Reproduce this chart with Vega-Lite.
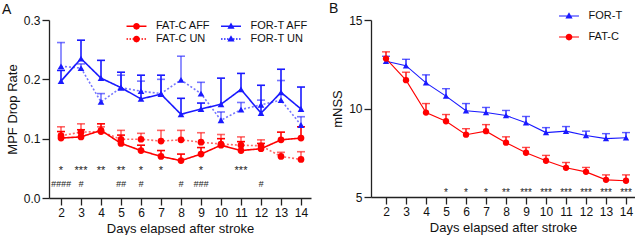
{
  "$schema": "https://vega.github.io/schema/vega-lite/v6.json",
  "padding": {"left": 2, "top": 1, "right": 0, "bottom": 0},
  "config": {
    "font": "Liberation Sans",
    "view": {"stroke": null},
    "axis": {"grid": false, "domainColor": "#222", "tickColor": "#222", "domainWidth": 1.3, "tickWidth": 1.3, "labelFontSize": 12, "titleFontSize": 13, "titleFontWeight": "normal", "labelColor": "#111", "titleColor": "#111", "tickSize": 7, "labelPadding": 2},
    "legend": {"padding": 0, "labelFontSize": 11, "labelColor": "#111", "symbolSize": 225, "labelOffset": 12, "symbolStrokeWidth": 0},
    "title": {"fontSize": 14, "fontWeight": "normal", "anchor": "start", "color": "#111"}
  },
  "spacing": 18,
  "resolve": {"scale": {"color": "independent", "shape": "independent", "strokeDash": "independent", "opacity": "independent", "strokeOpacity": "independent"}, "legend": {"color": "independent"}},
  "datasets": {
    "a": [
      {"day": 2, "series": "FOR-T AFF", "group": "FOR-T", "kind": "AFF", "mean": 0.197, "hi": 0.215},
      {"day": 3, "series": "FOR-T AFF", "group": "FOR-T", "kind": "AFF", "mean": 0.235, "hi": 0.266},
      {"day": 4, "series": "FOR-T AFF", "group": "FOR-T", "kind": "AFF", "mean": 0.202, "hi": 0.232},
      {"day": 5, "series": "FOR-T AFF", "group": "FOR-T", "kind": "AFF", "mean": 0.186, "hi": 0.212},
      {"day": 6, "series": "FOR-T AFF", "group": "FOR-T", "kind": "AFF", "mean": 0.167, "hi": 0.207},
      {"day": 7, "series": "FOR-T AFF", "group": "FOR-T", "kind": "AFF", "mean": 0.175, "hi": 0.207},
      {"day": 8, "series": "FOR-T AFF", "group": "FOR-T", "kind": "AFF", "mean": 0.141, "hi": 0.168},
      {"day": 9, "series": "FOR-T AFF", "group": "FOR-T", "kind": "AFF", "mean": 0.150, "hi": 0.160},
      {"day": 10, "series": "FOR-T AFF", "group": "FOR-T", "kind": "AFF", "mean": 0.158, "hi": 0.202},
      {"day": 11, "series": "FOR-T AFF", "group": "FOR-T", "kind": "AFF", "mean": 0.183, "hi": 0.210},
      {"day": 12, "series": "FOR-T AFF", "group": "FOR-T", "kind": "AFF", "mean": 0.143, "hi": 0.190},
      {"day": 13, "series": "FOR-T AFF", "group": "FOR-T", "kind": "AFF", "mean": 0.178, "hi": 0.217},
      {"day": 14, "series": "FOR-T AFF", "group": "FOR-T", "kind": "AFF", "mean": 0.150, "hi": 0.187},
      {"day": 2, "series": "FOR-T UN", "group": "FOR-T", "kind": "UN", "mean": 0.222, "hi": 0.262},
      {"day": 3, "series": "FOR-T UN", "group": "FOR-T", "kind": "UN", "mean": 0.219, "hi": 0.226},
      {"day": 4, "series": "FOR-T UN", "group": "FOR-T", "kind": "UN", "mean": 0.162, "hi": 0.176},
      {"day": 5, "series": "FOR-T UN", "group": "FOR-T", "kind": "UN", "mean": 0.186, "hi": 0.207},
      {"day": 6, "series": "FOR-T UN", "group": "FOR-T", "kind": "UN", "mean": 0.180, "hi": 0.197},
      {"day": 7, "series": "FOR-T UN", "group": "FOR-T", "kind": "UN", "mean": 0.176, "hi": 0.200},
      {"day": 8, "series": "FOR-T UN", "group": "FOR-T", "kind": "UN", "mean": 0.199, "hi": 0.239},
      {"day": 9, "series": "FOR-T UN", "group": "FOR-T", "kind": "UN", "mean": 0.176, "hi": 0.195},
      {"day": 10, "series": "FOR-T UN", "group": "FOR-T", "kind": "UN", "mean": 0.131, "hi": 0.145},
      {"day": 11, "series": "FOR-T UN", "group": "FOR-T", "kind": "UN", "mean": 0.149, "hi": 0.161},
      {"day": 12, "series": "FOR-T UN", "group": "FOR-T", "kind": "UN", "mean": 0.157, "hi": 0.165},
      {"day": 13, "series": "FOR-T UN", "group": "FOR-T", "kind": "UN", "mean": 0.165, "hi": 0.198},
      {"day": 14, "series": "FOR-T UN", "group": "FOR-T", "kind": "UN", "mean": 0.123, "hi": 0.137},
      {"day": 2, "series": "FAT-C AFF", "group": "FAT-C", "kind": "AFF", "mean": 0.101, "hi": 0.112},
      {"day": 3, "series": "FAT-C AFF", "group": "FAT-C", "kind": "AFF", "mean": 0.103, "hi": 0.115},
      {"day": 4, "series": "FAT-C AFF", "group": "FAT-C", "kind": "AFF", "mean": 0.114, "hi": 0.125},
      {"day": 5, "series": "FAT-C AFF", "group": "FAT-C", "kind": "AFF", "mean": 0.092, "hi": 0.106},
      {"day": 6, "series": "FAT-C AFF", "group": "FAT-C", "kind": "AFF", "mean": 0.080, "hi": 0.089},
      {"day": 7, "series": "FAT-C AFF", "group": "FAT-C", "kind": "AFF", "mean": 0.070, "hi": 0.080},
      {"day": 8, "series": "FAT-C AFF", "group": "FAT-C", "kind": "AFF", "mean": 0.063, "hi": 0.074},
      {"day": 9, "series": "FAT-C AFF", "group": "FAT-C", "kind": "AFF", "mean": 0.074, "hi": 0.085},
      {"day": 10, "series": "FAT-C AFF", "group": "FAT-C", "kind": "AFF", "mean": 0.089, "hi": 0.100},
      {"day": 11, "series": "FAT-C AFF", "group": "FAT-C", "kind": "AFF", "mean": 0.080, "hi": 0.095},
      {"day": 12, "series": "FAT-C AFF", "group": "FAT-C", "kind": "AFF", "mean": 0.083, "hi": 0.092},
      {"day": 13, "series": "FAT-C AFF", "group": "FAT-C", "kind": "AFF", "mean": 0.098, "hi": 0.111},
      {"day": 14, "series": "FAT-C AFF", "group": "FAT-C", "kind": "AFF", "mean": 0.101, "hi": 0.120},
      {"day": 2, "series": "FAT-C UN", "group": "FAT-C", "kind": "UN", "mean": 0.105, "hi": 0.120},
      {"day": 3, "series": "FAT-C UN", "group": "FAT-C", "kind": "UN", "mean": 0.111, "hi": 0.125},
      {"day": 4, "series": "FAT-C UN", "group": "FAT-C", "kind": "UN", "mean": 0.112, "hi": 0.120},
      {"day": 5, "series": "FAT-C UN", "group": "FAT-C", "kind": "UN", "mean": 0.099, "hi": 0.114},
      {"day": 6, "series": "FAT-C UN", "group": "FAT-C", "kind": "UN", "mean": 0.099, "hi": 0.109},
      {"day": 7, "series": "FAT-C UN", "group": "FAT-C", "kind": "UN", "mean": 0.096, "hi": 0.114},
      {"day": 8, "series": "FAT-C UN", "group": "FAT-C", "kind": "UN", "mean": 0.098, "hi": 0.114},
      {"day": 9, "series": "FAT-C UN", "group": "FAT-C", "kind": "UN", "mean": 0.094, "hi": 0.110},
      {"day": 10, "series": "FAT-C UN", "group": "FAT-C", "kind": "UN", "mean": 0.091, "hi": 0.107},
      {"day": 11, "series": "FAT-C UN", "group": "FAT-C", "kind": "UN", "mean": 0.089, "hi": 0.103},
      {"day": 12, "series": "FAT-C UN", "group": "FAT-C", "kind": "UN", "mean": 0.088, "hi": 0.098},
      {"day": 13, "series": "FAT-C UN", "group": "FAT-C", "kind": "UN", "mean": 0.070, "hi": 0.077},
      {"day": 14, "series": "FAT-C UN", "group": "FAT-C", "kind": "UN", "mean": 0.065, "hi": 0.078}
    ],
    "annA": [
      {"day": 2, "row": "star", "label": "*"},
      {"day": 3, "row": "star", "label": "***"},
      {"day": 4, "row": "star", "label": "**"},
      {"day": 5, "row": "star", "label": "**"},
      {"day": 6, "row": "star", "label": "*"},
      {"day": 7, "row": "star", "label": "*"},
      {"day": 9, "row": "star", "label": "*"},
      {"day": 11, "row": "star", "label": "***"},
      {"day": 2, "row": "hash", "label": "####"},
      {"day": 3, "row": "hash", "label": "#"},
      {"day": 5, "row": "hash", "label": "##"},
      {"day": 6, "row": "hash", "label": "#"},
      {"day": 8, "row": "hash", "label": "#"},
      {"day": 9, "row": "hash", "label": "###"},
      {"day": 12, "row": "hash", "label": "#"}
    ],
    "b": [
      {"day": 2, "series": "FOR-T", "marker": "triangle", "mean": 12.67, "hi": 12.95},
      {"day": 3, "series": "FOR-T", "marker": "triangle", "mean": 12.42, "hi": 12.78},
      {"day": 4, "series": "FOR-T", "marker": "triangle", "mean": 11.45, "hi": 11.9},
      {"day": 5, "series": "FOR-T", "marker": "triangle", "mean": 10.7, "hi": 11.12},
      {"day": 6, "series": "FOR-T", "marker": "triangle", "mean": 9.87, "hi": 10.28},
      {"day": 7, "series": "FOR-T", "marker": "triangle", "mean": 9.77, "hi": 10.06},
      {"day": 8, "series": "FOR-T", "marker": "triangle", "mean": 9.6, "hi": 9.89},
      {"day": 9, "series": "FOR-T", "marker": "triangle", "mean": 9.2, "hi": 9.55},
      {"day": 10, "series": "FOR-T", "marker": "triangle", "mean": 8.64, "hi": 8.92},
      {"day": 11, "series": "FOR-T", "marker": "triangle", "mean": 8.72, "hi": 8.98},
      {"day": 12, "series": "FOR-T", "marker": "triangle", "mean": 8.47, "hi": 8.72},
      {"day": 13, "series": "FOR-T", "marker": "triangle", "mean": 8.3, "hi": 8.58},
      {"day": 14, "series": "FOR-T", "marker": "triangle", "mean": 8.35, "hi": 8.64},
      {"day": 2, "series": "FAT-C", "marker": "circle", "mean": 12.82, "hi": 13.2},
      {"day": 3, "series": "FAT-C", "marker": "circle", "mean": 11.6, "hi": 12.05},
      {"day": 4, "series": "FAT-C", "marker": "circle", "mean": 9.77, "hi": 10.28},
      {"day": 5, "series": "FAT-C", "marker": "circle", "mean": 9.28, "hi": 9.66},
      {"day": 6, "series": "FAT-C", "marker": "circle", "mean": 8.52, "hi": 8.86},
      {"day": 7, "series": "FAT-C", "marker": "circle", "mean": 8.72, "hi": 9.09},
      {"day": 8, "series": "FAT-C", "marker": "circle", "mean": 8.07, "hi": 8.4},
      {"day": 9, "series": "FAT-C", "marker": "circle", "mean": 7.5, "hi": 7.8},
      {"day": 10, "series": "FAT-C", "marker": "circle", "mean": 7.05, "hi": 7.35},
      {"day": 11, "series": "FAT-C", "marker": "circle", "mean": 6.65, "hi": 6.95},
      {"day": 12, "series": "FAT-C", "marker": "circle", "mean": 6.42, "hi": 6.67},
      {"day": 13, "series": "FAT-C", "marker": "circle", "mean": 5.97, "hi": 6.25},
      {"day": 14, "series": "FAT-C", "marker": "circle", "mean": 5.92, "hi": 6.25}
    ],
    "annB": [
      {"day": 5, "label": "*"},
      {"day": 6, "label": "*"},
      {"day": 7, "label": "*"},
      {"day": 8, "label": "**"},
      {"day": 9, "label": "***"},
      {"day": 10, "label": "***"},
      {"day": 11, "label": "***"},
      {"day": 12, "label": "***"},
      {"day": 13, "label": "***"},
      {"day": 14, "label": "***"}
    ]
  },
  "hconcat": [
    {
      "width": 262,
      "height": 178,
      "title": {"text": "A", "dx": -4, "offset": -3},
      "encoding": {
        "x": {"field": "day", "type": "quantitative", "scale": {"domain": [1.4, 14.5], "nice": false, "zero": false},
          "axis": {"title": "Days elapsed after stroke", "values": [2,3,4,5,6,7,8,9,10,11,12,13,14], "titlePadding": 4}}
      },
      "layer": [
        {
          "data": {"name": "a"},
          "mark": {"type": "line", "strokeWidth": 1.6},
          "encoding": {
            "y": {"field": "mean", "type": "quantitative", "scale": {"domain": [0, 0.3], "nice": false},
              "axis": {"title": "MPF Drop Rate", "values": [0, 0.1, 0.2, 0.3], "format": ".1f", "titlePadding": 4, "minExtent": 26, "maxExtent": 26}},
            "color": {"field": "series", "type": "nominal",
              "scale": {"domain": ["FAT-C AFF", "FAT-C UN", "FOR-T AFF", "FOR-T UN"], "range": ["#ff0000", "#ff0000", "#1a1aff", "#1a1aff"]},
              "legend": {"title": null, "orient": "none", "legendX": 80, "legendY": -1.5, "columns": 2, "columnPadding": 9.5, "rowPadding": 0,
                "encode": {"symbols": {"update": {
                  "shape": {"signal": "datum.value == 'FAT-C AFF' ? 'M-1.33,-0.1H1.33V0.1H-1.33ZM0.45,0A0.45,0.45,0,1,1,-0.45,0A0.45,0.45,0,1,1,0.45,0Z' : datum.value == 'FOR-T AFF' ? 'M-1.33,-0.1H1.33V0.1H-1.33ZM0,-0.5L0.48,0.34L-0.48,0.34Z' : datum.value == 'FAT-C UN' ? 'M-1.33,-0.1h0.2v0.2h-0.2zM-0.93,-0.1h0.2v0.2h-0.2zM-0.53,-0.1h0.2v0.2h-0.2zM0.27,-0.1h0.2v0.2h-0.2zM0.67,-0.1h0.2v0.2h-0.2zM1.07,-0.1h0.2v0.2h-0.2zM0.45,0A0.45,0.45,0,1,1,-0.45,0A0.45,0.45,0,1,1,0.45,0Z' : 'M-1.33,-0.1h0.2v0.2h-0.2zM-0.93,-0.1h0.2v0.2h-0.2zM-0.53,-0.1h0.2v0.2h-0.2zM0.27,-0.1h0.2v0.2h-0.2zM0.67,-0.1h0.2v0.2h-0.2zM1.07,-0.1h0.2v0.2h-0.2zM0,-0.5L0.48,0.34L-0.48,0.34Z'"},
                  "fill": {"signal": "indexof(datum.value, 'FAT') >= 0 ? '#ff0000' : '#1a1aff'"},
                  "stroke": {"value": "transparent"},
                  "strokeWidth": {"value": 0},
                  "strokeDash": {"value": [1, 0]},
                  "opacity": {"value": 1}
                }}}}
            },
            "strokeDash": {"field": "kind", "type": "nominal", "scale": {"domain": ["AFF", "UN"], "range": [[1, 0], [2, 2]]}, "legend": null},
            "strokeOpacity": {"field": "kind", "type": "nominal", "scale": {"domain": ["AFF", "UN"], "range": [1, 0.6]}, "legend": null},
            "detail": {"field": "series"}
          }
        },
        {
          "data": {"name": "a"},
          "mark": {"type": "rule", "strokeWidth": 1.6},
          "encoding": {
            "y": {"field": "mean", "type": "quantitative"},
            "y2": {"field": "hi"},
            "color": {"field": "series", "type": "nominal"},
            "opacity": {"field": "kind", "type": "nominal", "scale": {"domain": ["AFF", "UN"], "range": [1, 0.6]}, "legend": null}
          }
        },
        {
          "data": {"name": "a"},
          "mark": {"type": "tick", "orient": "horizontal", "size": 8, "thickness": 1.6},
          "encoding": {
            "y": {"field": "hi", "type": "quantitative"},
            "color": {"field": "series", "type": "nominal"},
            "opacity": {"field": "kind", "type": "nominal", "scale": {"domain": ["AFF", "UN"], "range": [1, 0.6]}, "legend": null}
          }
        },
        {
          "data": {"name": "a"},
          "mark": {"type": "point", "filled": true, "size": 45, "opacity": 1},
          "encoding": {
            "y": {"field": "mean", "type": "quantitative"},
            "color": {"field": "series", "type": "nominal"},
            "shape": {"field": "group", "type": "nominal", "scale": {"domain": ["FAT-C", "FOR-T"], "range": ["circle", "triangle-up"]}, "legend": null}
          }
        },
        {
          "data": {"name": "annA"},
          "transform": [{"filter": "datum.row == 'star'"}],
          "mark": {"type": "text", "fontSize": 11, "letterSpacing": 2, "baseline": "alphabetic", "fill": "#222"},
          "encoding": {
            "x": {"field": "day", "type": "quantitative"},
            "y": {"datum": 0.041},
            "text": {"field": "label"}
          }
        },
        {
          "data": {"name": "annA"},
          "transform": [{"filter": "datum.row == 'hash'"}],
          "mark": {"type": "text", "fontSize": 9, "fontStyle": "italic", "letterSpacing": -0.5, "baseline": "middle", "fill": "#222"},
          "encoding": {
            "x": {"field": "day", "type": "quantitative"},
            "y": {"datum": 0.024},
            "text": {"field": "label"}
          }
        }
      ]
    },
    {
      "width": 264,
      "height": 177,
      "title": {"text": "B", "dx": -2, "offset": -7},
      "encoding": {
        "x": {"field": "day", "type": "quantitative", "scale": {"domain": [1.25, 14.45], "nice": false, "zero": false},
          "axis": {"title": "Days elapsed after stroke", "values": [2,3,4,5,6,7,8,9,10,11,12,13,14], "titlePadding": 4}}
      },
      "layer": [
        {
          "data": {"name": "b"},
          "mark": {"type": "line", "strokeWidth": 1.1},
          "encoding": {
            "y": {"field": "mean", "type": "quantitative", "scale": {"domain": [5, 15], "nice": false, "zero": false},
              "axis": {"title": "mNSS", "values": [5, 10, 15], "titlePadding": 6, "minExtent": 21, "maxExtent": 21}},
            "color": {"field": "series", "type": "nominal",
              "scale": {"domain": ["FOR-T", "FAT-C"], "range": ["#1a1aff", "#ff0000"]},
              "legend": {"title": null, "orient": "none", "legendX": 190.5, "legendY": -11.5, "rowPadding": 8,
                "encode": {"symbols": {"update": {
                  "shape": {"signal": "datum.value == 'FAT-C' ? 'M-1.33,-0.08H1.33V0.08H-1.33ZM0.45,0A0.45,0.45,0,1,1,-0.45,0A0.45,0.45,0,1,1,0.45,0Z' : 'M-1.33,-0.08H1.33V0.08H-1.33ZM0,-0.5L0.48,0.34L-0.48,0.34Z'"},
                  "fill": {"signal": "datum.value == 'FAT-C' ? '#ff0000' : '#1a1aff'"},
                  "stroke": {"value": "transparent"},
                  "strokeWidth": {"value": 0},
                  "opacity": {"value": 1}
                }}}}
            }
          }
        },
        {
          "data": {"name": "b"},
          "mark": {"type": "rule", "strokeWidth": 1.4},
          "encoding": {
            "y": {"field": "mean", "type": "quantitative"},
            "y2": {"field": "hi"},
            "color": {"field": "series", "type": "nominal"}
          }
        },
        {
          "data": {"name": "b"},
          "mark": {"type": "tick", "orient": "horizontal", "size": 8, "thickness": 1.4},
          "encoding": {
            "y": {"field": "hi", "type": "quantitative"},
            "color": {"field": "series", "type": "nominal"}
          }
        },
        {
          "data": {"name": "b"},
          "mark": {"type": "point", "filled": true, "size": 40, "opacity": 1},
          "encoding": {
            "y": {"field": "mean", "type": "quantitative"},
            "color": {"field": "series", "type": "nominal"},
            "shape": {"field": "marker", "type": "nominal", "scale": {"domain": ["triangle", "circle"], "range": ["triangle-up", "circle"]}, "legend": null}
          }
        },
        {
          "data": {"name": "annB"},
          "mark": {"type": "text", "fontSize": 10, "letterSpacing": 1.5, "baseline": "alphabetic", "fill": "#222"},
          "encoding": {
            "x": {"field": "day", "type": "quantitative"},
            "y": {"datum": 5.05},
            "text": {"field": "label"}
          }
        }
      ]
    }
  ]
}
